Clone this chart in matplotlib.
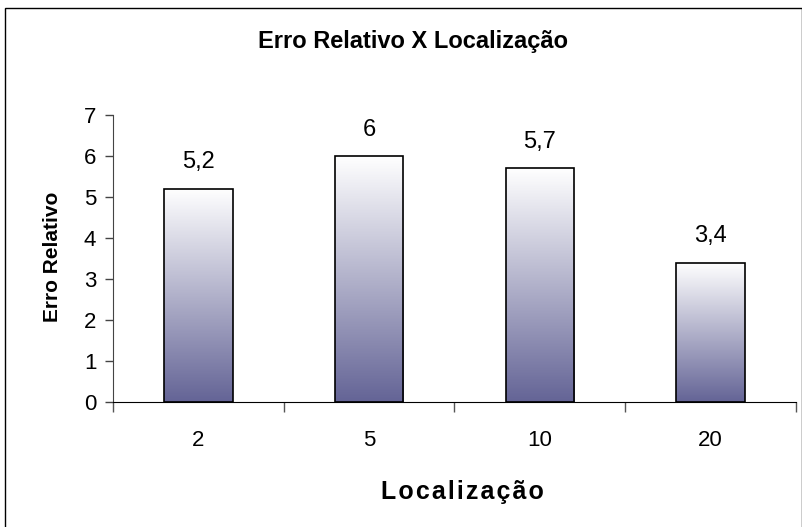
import numpy as np
import matplotlib.pyplot as plt
from matplotlib.colors import LinearSegmentedColormap
from matplotlib.patches import Rectangle

plt.rcParams["font.family"] = ["Liberation Sans", "DejaVu Sans"]

categories = ["2", "5", "10", "20"]
values = [5.2, 6.0, 5.7, 3.4]
value_labels = ["5,2", "6", "5,7", "3,4"]

W, H = 802, 527
fig = plt.figure(figsize=(W / 100, H / 100), dpi=100)
ax = fig.add_axes([113 / W, 1 - 402 / H, (796 - 113) / W, (402 - 115) / H])

# outer chart border, Excel style
fig.patches.append(Rectangle((5 / W, -0.01), 1 - 5.5 / W, 1 - 8 / H + 0.01,
                             transform=fig.transFigure, fill=False,
                             edgecolor="black", linewidth=1.0))

cmap = LinearSegmentedColormap.from_list("bar", ["#646496", "#ffffff"])
grad = np.linspace(0, 1, 256).reshape(-1, 1)
x = np.arange(len(categories))
width = 0.4
bars = ax.bar(x, values, width=width, facecolor="none", edgecolor="black",
              linewidth=1.2, zorder=3)
for bar, lab in zip(bars, value_labels):
    x0, h = bar.get_x(), bar.get_height()
    im = ax.imshow(grad, cmap=cmap, origin="lower", aspect="auto",
                   extent=[x0, x0 + width, 0, h], zorder=2)
    im.set_clip_path(bar)
    ax.text(x0 + width / 2, h + 0.5, lab, ha="center", va="baseline", fontsize=17)

ax.set_xlim(-0.5, len(categories) - 0.5)
ax.set_ylim(0, 7)
ax.set_yticks(range(8))
ax.tick_params(axis="y", labelsize=16, length=6, width=1, direction="out", pad=6,
               color="#444444")
ax.set_xticks(x)
ax.set_xticklabels(categories, fontsize=16)
ax.tick_params(axis="x", length=0, pad=20)
ax.set_xticks(np.arange(-0.5, len(categories)), minor=True)
ax.tick_params(axis="x", which="minor", length=7, width=1, color="#555555")

for side in ("top", "right"):
    ax.spines[side].set_visible(False)
ax.spines["left"].set_color("#444444")

ax.set_ylabel("Erro Relativo", fontsize=15, fontweight="bold", va="center")
ax.yaxis.set_label_coords(-0.088, 0.505)
ax.set_xlabel("\u200a".join("Localização"), fontsize=18, fontweight="bold",
              va="center")
ax.xaxis.set_label_coords(0.511, -0.314)
fig.text(413 / W, 1 - 48 / H, "Erro Relativo X Localização",
         ha="center", va="baseline", fontsize=17, fontweight="bold")

fig.savefig("out.png", dpi=100)
